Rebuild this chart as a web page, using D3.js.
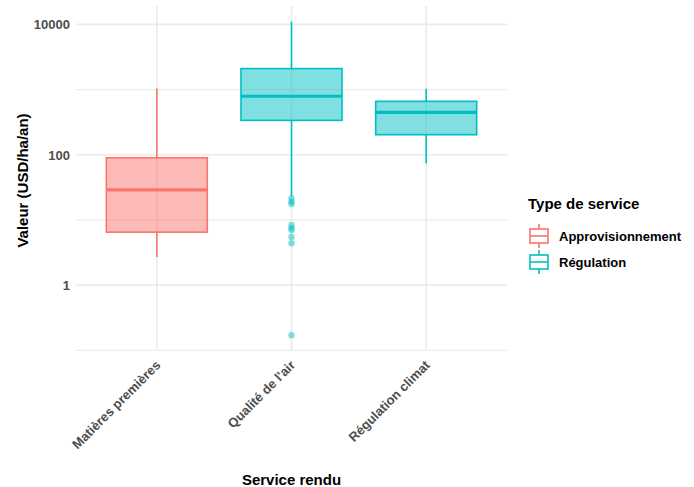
<!DOCTYPE html>
<html>
<head>
<meta charset="utf-8">
<script src="https://cdn.jsdelivr.net/npm/d3@7/dist/d3.min.js"></script>
<style>
  html, body { margin: 0; padding: 0; background: #fff; }
  svg { display: block; font-family: "Liberation Sans", Arial, sans-serif; }
</style>
</head>
<body>
<svg id="chart" width="694" height="487"></svg>
<script>
// Service categories and their type
const categories = ["Matières premières", "Qualité de l'air", "Régulation climat"];
const serviceTypes = ["Approvisionnement", "Régulation", "Régulation"];
const typeLevels = ["Approvisionnement", "Régulation"];
const typeColors = ["#F8766D", "#00BFC4"];

// Box statistics (USD/ha/an)
const whiskerLow  = [2.7, 23, 74];
const q1          = [6.5, 337, 203];
const median      = [29, 790, 448];
const q3          = [90, 2100, 660];
const whiskerHigh = [1040, 11000, 1030];

// Outliers for "Qualité de l'air"
const outlierCategory = ["Qualité de l'air", "Qualité de l'air", "Qualité de l'air", "Qualité de l'air",
  "Qualité de l'air", "Qualité de l'air", "Qualité de l'air", "Qualité de l'air", "Qualité de l'air"];
const outlierValues = [21.5, 19, 17.6, 8.4, 7.5, 7.0, 5.5, 4.4, 0.17];

// Axis ticks
const yTicks = [1, 100, 10000];
const yMinorTicks = [0.1, 10, 1000];

const svg = d3.select("#chart");
const panel = { left: 76, right: 507, top: 6, bottom: 351 };

const x = d3.scalePoint()
  .domain(categories)
  .range([panel.left, panel.right])
  .padding(0.6);
const step = x.step();

// Log scale with a 5% expansion of the data range
const allVals = whiskerLow.concat(whiskerHigh, outlierValues);
const lo = Math.log10(d3.min(allVals)), hi = Math.log10(d3.max(allVals));
const pad = (hi - lo) * 0.05;
const y = d3.scaleLog()
  .domain([Math.pow(10, lo - pad), Math.pow(10, hi + pad)])
  .range([panel.bottom, panel.top]);

const color = d3.scaleOrdinal().domain(typeLevels).range(typeColors);

// Grid
const grid = svg.append("g");
grid.selectAll("line.minor").data(yMinorTicks).join("line")
  .attr("x1", panel.left).attr("x2", panel.right)
  .attr("y1", d => y(d)).attr("y2", d => y(d))
  .attr("stroke", "#ebebeb").attr("stroke-width", 1.2);
grid.selectAll("line.major").data(yTicks).join("line")
  .attr("x1", panel.left).attr("x2", panel.right)
  .attr("y1", d => y(d)).attr("y2", d => y(d))
  .attr("stroke", "#ebebeb").attr("stroke-width", 1.6);
grid.selectAll("line.vert").data(categories).join("line")
  .attr("x1", d => x(d)).attr("x2", d => x(d))
  .attr("y1", panel.top).attr("y2", panel.bottom)
  .attr("stroke", "#ebebeb").attr("stroke-width", 1.6);

// Boxplots
const boxW = step * 0.75;
const boxes = svg.append("g");
categories.forEach((c, i) => {
  const col = color(serviceTypes[i]);
  const cx = x(c);
  const g = boxes.append("g");
  g.append("line")
    .attr("x1", cx).attr("x2", cx)
    .attr("y1", y(q3[i])).attr("y2", y(whiskerHigh[i]))
    .attr("stroke", col).attr("stroke-width", 1.6);
  g.append("line")
    .attr("x1", cx).attr("x2", cx)
    .attr("y1", y(q1[i])).attr("y2", y(whiskerLow[i]))
    .attr("stroke", col).attr("stroke-width", 1.6);
  g.append("rect")
    .attr("x", cx - boxW / 2).attr("width", boxW)
    .attr("y", y(q3[i])).attr("height", y(q1[i]) - y(q3[i]))
    .attr("fill", col).attr("fill-opacity", 0.5)
    .attr("stroke", col).attr("stroke-width", 1.6);
  g.append("line")
    .attr("x1", cx - boxW / 2).attr("x2", cx + boxW / 2)
    .attr("y1", y(median[i])).attr("y2", y(median[i]))
    .attr("stroke", col).attr("stroke-width", 3.2);
});

// Outliers
svg.append("g").selectAll("circle").data(outlierValues).join("circle")
  .attr("cx", (d, i) => x(outlierCategory[i]))
  .attr("cy", d => y(d))
  .attr("r", 3.2)
  .attr("fill", (d, i) => color(serviceTypes[categories.indexOf(outlierCategory[i])]))
  .attr("fill-opacity", 0.5);

// Y axis labels
const yAxis = svg.append("g")
  .attr("transform", `translate(${panel.left - 6},0)`)
  .call(d3.axisLeft(y).tickValues(yTicks).tickFormat(d3.format("d")).tickSize(0).tickPadding(0));
yAxis.select(".domain").remove();
yAxis.selectAll("text")
  .attr("fill", "#4d4d4d").attr("font-size", 13).attr("font-weight", "bold")
  .attr("dy", "0.35em");

// X axis labels
const xAxis = svg.append("g")
  .attr("transform", `translate(0,${panel.bottom})`)
  .call(d3.axisBottom(x).tickSize(0).tickPadding(0));
xAxis.select(".domain").remove();
xAxis.selectAll("text")
  .attr("fill", "#4d4d4d").attr("font-size", 13).attr("font-weight", "bold")
  .attr("text-anchor", "end")
  .attr("dy", null).attr("y", 0)
  .attr("transform", "translate(4,15) rotate(-45)");

// Axis titles
svg.append("text")
  .attr("x", (panel.left + panel.right) / 2).attr("y", 485)
  .attr("text-anchor", "middle").attr("font-size", 15).attr("font-weight", "bold")
  .attr("fill", "#000").text("Service rendu");
svg.append("text")
  .attr("transform", `translate(28,${(panel.top + panel.bottom) / 2 + 2}) rotate(-90)`)
  .attr("text-anchor", "middle").attr("font-size", 15).attr("font-weight", "bold")
  .attr("fill", "#000").text("Valeur (USD/ha/an)");

// Legend
const legend = svg.append("g").attr("transform", "translate(528,0)");
legend.append("text")
  .attr("x", 0).attr("y", 209)
  .attr("font-size", 15).attr("font-weight", "bold").attr("fill", "#000")
  .text("Type de service");
typeLevels.forEach((t, i) => {
  const col = color(t);
  const cy = 236 + i * 26;
  const k = legend.append("g");
  k.append("line").attr("x1", 11).attr("x2", 11).attr("y1", cy - 12).attr("y2", cy + 12)
    .attr("stroke", col).attr("stroke-width", 1.6);
  k.append("rect").attr("x", 2).attr("width", 18).attr("y", cy - 7).attr("height", 14)
    .attr("fill", "#fff").attr("stroke", col).attr("stroke-width", 1.6);
  k.append("line").attr("x1", 2).attr("x2", 20).attr("y1", cy).attr("y2", cy)
    .attr("stroke", col).attr("stroke-width", 1.6);
  legend.append("text")
    .attr("x", 31).attr("y", cy).attr("dy", "0.35em")
    .attr("font-size", 13).attr("font-weight", "bold").attr("fill", "#000")
    .text(t);
});
</script>
</body>
</html>
